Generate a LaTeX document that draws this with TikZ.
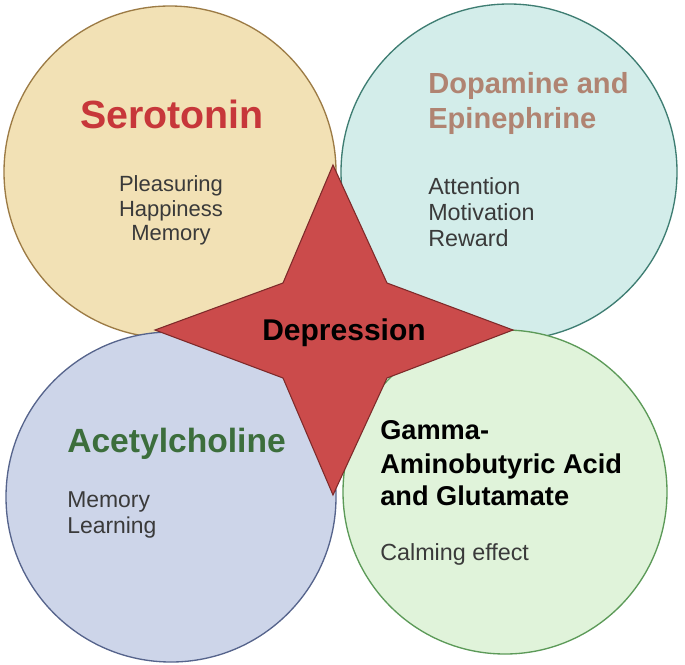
\documentclass[tikz,border=0pt]{standalone}
\usepackage{fontspec}
\setmainfont{Liberation Sans}
\definecolor{tlfill}{HTML}{F2E1B5}
\definecolor{tlline}{HTML}{9C7B45}
\definecolor{trfill}{HTML}{D3EDEA}
\definecolor{trline}{HTML}{3E7D72}
\definecolor{blfill}{HTML}{CDD5E9}
\definecolor{blline}{HTML}{56648C}
\definecolor{brfill}{HTML}{E0F3DA}
\definecolor{brline}{HTML}{5C9A58}
\definecolor{starfill}{HTML}{CB4B4B}
\definecolor{starline}{HTML}{7E2A2A}
\definecolor{serored}{HTML}{C7373A}
\definecolor{dopabrown}{HTML}{B08472}
\definecolor{acegreen}{HTML}{3C6E3C}
\definecolor{smalltext}{HTML}{3A3A3A}
\begin{document}
\begin{tikzpicture}[x=0.75pt,y=-0.75pt,
  bubble/.style={line width=1pt},
  title/.style={inner sep=0pt,font=\bfseries},
  item/.style={inner sep=0pt,text=smalltext,font=\fontsize{16.5}{18}\selectfont},
]
\useasboundingbox (0,0) rectangle (685,664);
\fill[white] (0,0) rectangle (685,664);
% circle centres
\coordinate (ctl) at (170,172);
\coordinate (ctr) at (509,172);
\coordinate (cbl) at (171,497);
\coordinate (cbr) at (505,492);
\draw[bubble,fill=tlfill,draw=tlline] (ctl) circle (166);
\draw[bubble,fill=trfill,draw=trline] (ctr) circle (168);
\draw[bubble,fill=blfill,draw=blline] (cbl) circle (165);
\draw[bubble,fill=brfill,draw=brline] (cbr) circle (162);
% star
\coordinate (st) at (333,165);
\coordinate (sir) at (387,283);
\coordinate (sr) at (513,330);
\coordinate (sbr) at (387,378);
\coordinate (sb) at (333,495);
\coordinate (sbl) at (283,378);
\coordinate (sl) at (155,330);
\coordinate (sil) at (283,283);
\draw[fill=starfill,draw=starline,line width=0.8pt,line join=miter]
  (st) -- (sir) -- (sr) -- (sbr) -- (sb) -- (sbl) -- (sl) -- (sil) -- cycle;
\node[title,anchor=base,font=\fontsize{22.5}{24}\bfseries] (dep) at (344,340) {Depression};
% Serotonin
\node[title,anchor=base,text=serored,font=\fontsize{29.5}{30}\bfseries] (sero) at (172,128) {Serotonin};
\node[item,anchor=base] (sero1) at (171,191) {Pleasuring};
\node[item,anchor=base] (sero2) at (171,216) {Happiness};
\node[item,anchor=base] (sero3) at (171,240) {Memory};
% Dopamine
\node[title,anchor=base west,text=dopabrown,font=\fontsize{21.8}{23}\bfseries] (dopa1) at (428,93) {Dopamine and};
\node[title,anchor=base west,text=dopabrown,font=\fontsize{21.8}{23}\bfseries] (dopa2) at (428,128) {Epinephrine};
\node[item,anchor=base west,font=\fontsize{17.5}{19}\selectfont] (dopaa) at (428,194) {Attention};
\node[item,anchor=base west,font=\fontsize{17.5}{19}\selectfont] (dopab) at (428,220) {Motivation};
\node[item,anchor=base west,font=\fontsize{17.5}{19}\selectfont] (dopac) at (428,246) {Reward};
% Acetylcholine
\node[title,anchor=base west,text=acegreen,font=\fontsize{25.2}{26}\bfseries] (ace) at (67,452) {Acetylcholine};
\node[item,anchor=base west,font=\fontsize{17.2}{19}\selectfont] (acea) at (67,507) {Memory};
\node[item,anchor=base west,font=\fontsize{17.2}{19}\selectfont] (aceb) at (67,533) {Learning};
% GABA
\node[title,anchor=base west,text=black,font=\fontsize{20.4}{22}\bfseries] (gaba1) at (380,439) {Gamma-};
\node[title,anchor=base west,text=black,font=\fontsize{20.4}{22}\bfseries] (gaba2) at (380,473) {Aminobutyric Acid};
\node[title,anchor=base west,text=black,font=\fontsize{20.4}{22}\bfseries] (gaba3) at (380,505) {and Glutamate};
\node[item,anchor=base west,font=\fontsize{17.5}{19}\selectfont] (gabaa) at (380,560) {Calming effect};
\end{tikzpicture}
\end{document}
